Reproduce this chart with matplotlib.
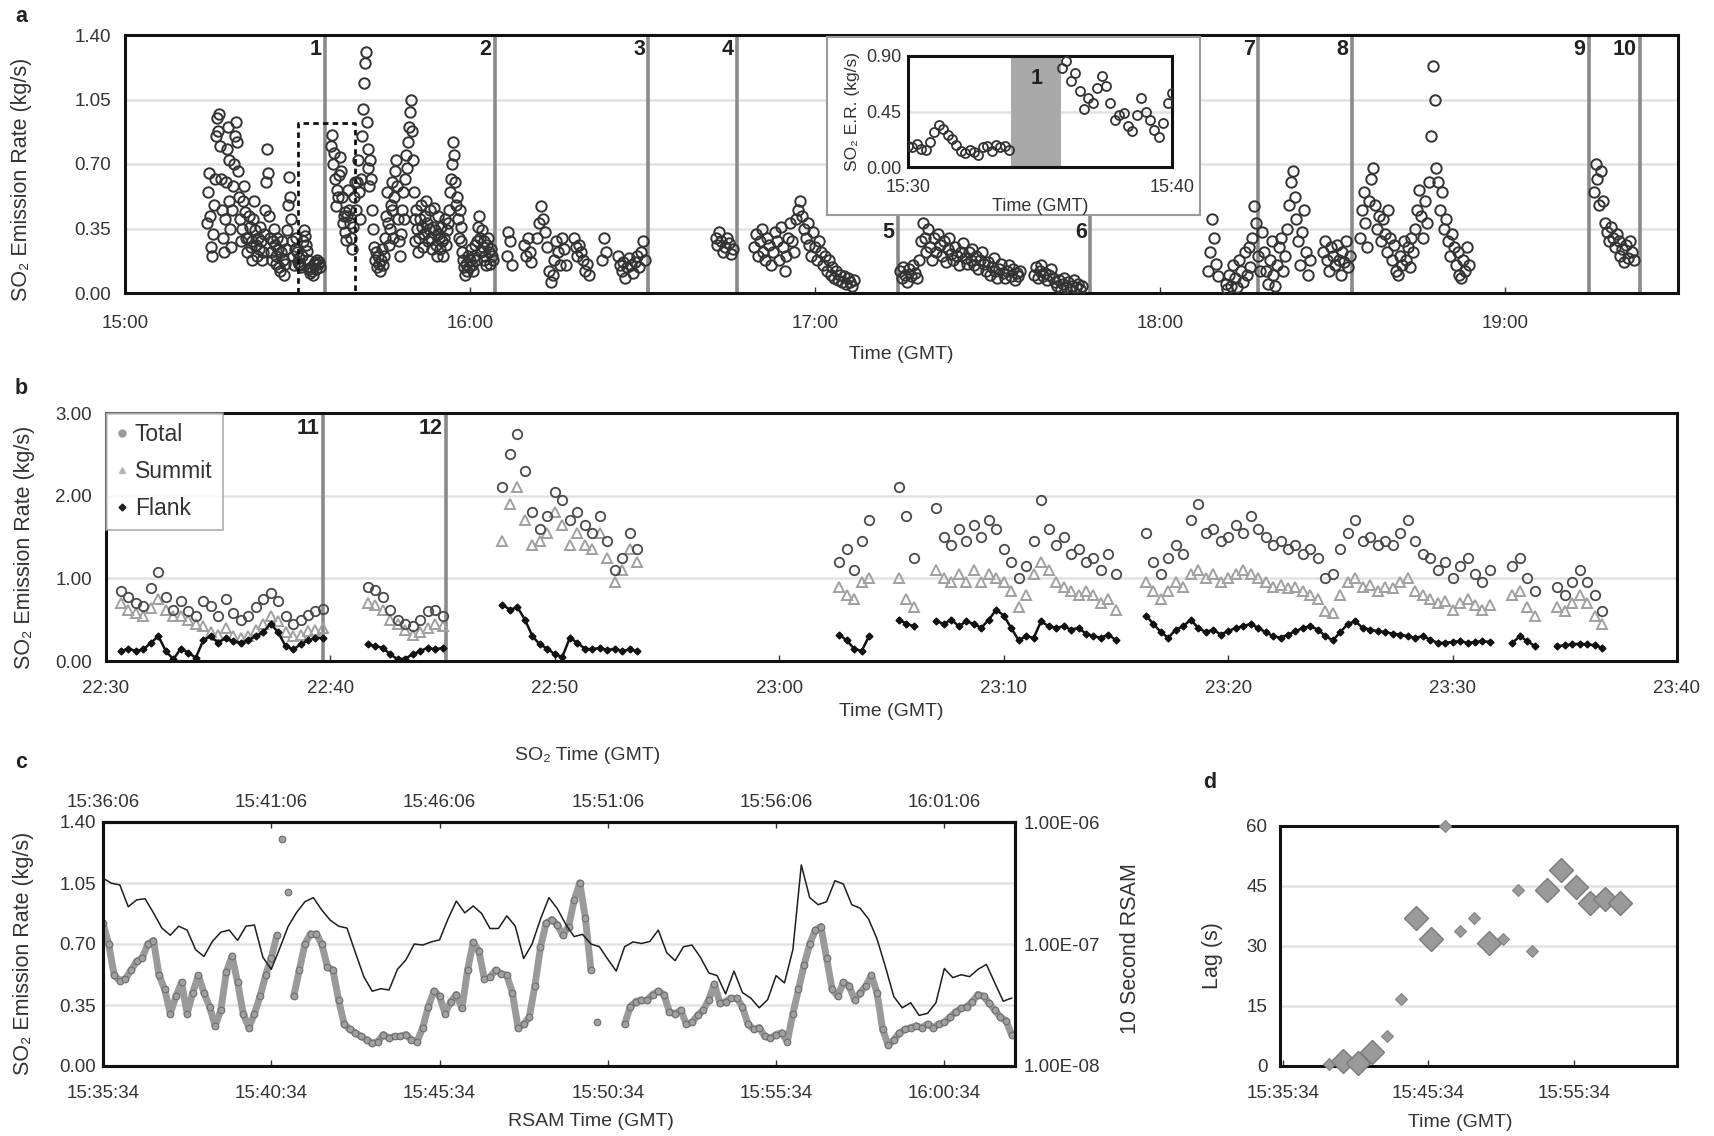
import numpy as np
import matplotlib
matplotlib.use("Agg")
import matplotlib.pyplot as plt
from matplotlib.ticker import FixedLocator, FuncFormatter
from matplotlib.lines import Line2D
from matplotlib.collections import LineCollection

plt.rcParams['font.family'] = ['Liberation Sans', 'DejaVu Sans']
plt.rcParams['text.color'] = '#333333'
plt.rcParams['axes.labelcolor'] = '#333333'
plt.rcParams['xtick.color'] = '#333333'
plt.rcParams['ytick.color'] = '#333333'

nan = np.nan

# ---------------- panel a : SO2 emission rate, runs of evenly spaced samples
a_starts = ["15:14:20", "15:30:00", "15:35:50", "15:40:10", "16:06:20", "16:42:40",
            "16:49:20", "17:14:40", "18:08:20", "18:17:40", "18:34:40", "19:15:20"]
a_steps = [10, 10, 10, 10, 20, 20, 20, 20, 20, 20, 20, 20]   # seconds

a_run1 = [0.38, 0.55, 0.65, 0.42, 0.25, 0.20, 0.32, 0.48, 0.62, 0.85, 0.95, 0.88,
          0.97, 0.80, 0.62, 0.45, 0.30, 0.22, 0.40, 0.60, 0.78, 0.90, 0.72, 0.50,
          0.35, 0.25, 0.45, 0.58, 0.70, 0.85, 0.93, 0.82, 0.66, 0.52, 0.40, 0.28,
          0.35, 0.50, 0.58, 0.44, 0.30, 0.22, 0.30, 0.42, 0.36, 0.25, 0.18, 0.28,
          0.40, 0.50, 0.34, 0.26, 0.20, 0.30, 0.24, 0.36, 0.28, 0.18, 0.22, 0.32,
          0.45, 0.60, 0.78, 0.65, 0.42, 0.30, 0.22, 0.18, 0.28, 0.35, 0.26, 0.16,
          0.20, 0.30, 0.24, 0.14, 0.12, 0.22, 0.28, 0.18, 0.10, 0.16, 0.24, 0.34,
          0.48, 0.63, 0.52, 0.40, 0.28, 0.20, 0.15, 0.24, 0.30, 0.22]
a_run2 = [0.17, 0.16, 0.19, 0.15, 0.14, 0.20, 0.28, 0.34, 0.31, 0.26, 0.23, 0.18,
          0.13, 0.11, 0.14, 0.12, 0.10, 0.16, 0.17, 0.13, 0.18, 0.16, 0.17, 0.14]
a_run3 = [0.80, 0.86, 0.70, 0.76, 0.62, 0.47, 0.56, 0.52, 0.64, 0.74, 0.66, 0.52,
          0.38, 0.42, 0.44, 0.33, 0.29, 0.42, 0.56, 0.45, 0.38, 0.30, 0.24, 0.36,
          0.52, 0.60]
a_run4 = [0.45, 0.60, 0.72, 0.55, 0.40, 0.62, 0.85, 1.00, 1.14, 1.25, 1.31, 0.93,
          0.78, 0.68, 0.58, 0.72, 0.62, 0.45, 0.35, 0.25, 0.18, 0.22, 0.14, 0.20,
          0.16, 0.12, 0.18, 0.24, 0.15, 0.20, 0.30, 0.42, 0.55, 0.38, 0.26, 0.35,
          0.48, 0.60, 0.45, 0.30, 0.52, 0.66, 0.72, 0.58, 0.40, 0.28, 0.20, 0.32,
          0.45, 0.55, 0.40, 0.62, 0.75, 0.68, 0.82, 0.90, 0.98, 1.05, 0.88, 0.72,
          0.55, 0.40, 0.28, 0.45, 0.35, 0.22, 0.30, 0.40, 0.48, 0.36, 0.25, 0.32,
          0.42, 0.50, 0.38, 0.28, 0.35, 0.45, 0.30, 0.24, 0.36, 0.46, 0.34, 0.26,
          0.20, 0.32, 0.42, 0.30, 0.24, 0.36, 0.28, 0.20, 0.30, 0.40, 0.26, 0.34,
          0.38, 0.45, 0.55, 0.62, 0.70, 0.82, 0.75, 0.60, 0.48, 0.52, 0.40, 0.30,
          0.45, 0.36, 0.28, 0.22, 0.18, 0.14, 0.10, 0.16, 0.12, 0.20, 0.14, 0.18,
          0.24, 0.15, 0.12, 0.20, 0.26, 0.18, 0.28, 0.36, 0.42, 0.30, 0.22, 0.34,
          0.25, 0.18, 0.28, 0.20, 0.15, 0.26, 0.30, 0.22, 0.16, 0.24, 0.20, 0.18]
a_run5 = [0.20, 0.33, 0.28, 0.15, nan, nan, nan, nan, nan, 0.26, 0.20, 0.30, 0.22,
          0.17, nan, nan, 0.30, 0.38, 0.47, 0.40, 0.33, 0.25, 0.12, 0.06, 0.10, 0.18,
          0.28, 0.22, 0.15, 0.30, 0.24, 0.15, nan, nan, nan, 0.30, 0.25, 0.20, 0.26,
          0.22, 0.18, 0.12, 0.16, 0.10, nan, nan, nan, nan, nan, nan, 0.18, 0.30,
          0.22, nan, nan, nan, nan, nan, 0.20, 0.15, 0.12, 0.17, 0.08, 0.14, 0.19,
          0.15, 0.11, 0.17, 0.20, 0.14, 0.22, 0.28, 0.18]
a_run6 = [0.30, 0.26, 0.33, 0.28, 0.22, 0.25, 0.30, 0.27, 0.21, 0.24]
a_run7 = [0.25, 0.32, 0.20, 0.28, 0.35, 0.22, 0.18, 0.30, 0.26,
          0.15, 0.22, 0.33, 0.28, 0.18, 0.36, 0.25, 0.12, 0.20,
          0.30, 0.38, 0.28, 0.22, 0.40, 0.45, 0.50, 0.42, 0.35,
          0.30, 0.38, 0.26, 0.20, 0.33, 0.25, 0.18, 0.28, 0.22,
          0.15, 0.20, 0.12, 0.18, 0.10, 0.14, 0.08, 0.12, 0.07,
          0.10, 0.06, 0.09, 0.05, 0.08, 0.06, 0.04, 0.07]
a_run8 = [0.12, 0.08, 0.14, 0.10, 0.06, 0.13, 0.09, 0.15, 0.11, 0.08,
          0.18, 0.28, 0.38, 0.30, 0.22, 0.35, 0.25, 0.18, 0.30,
          0.22, 0.32, 0.26, 0.20, 0.28, 0.17, 0.24, 0.30, 0.21,
          0.18, 0.25, 0.20, 0.15, 0.22, 0.27, 0.19, 0.16, 0.22,
          0.18, 0.24, 0.15, 0.20, 0.13, 0.18, 0.22, 0.16, 0.12,
          0.17, 0.10, 0.14, 0.19, 0.12, 0.08, 0.13, 0.16, 0.11,
          0.08, 0.12, 0.15, 0.09, 0.13, 0.07, 0.11, 0.09, 0.12,
          nan, nan, nan, nan, nan, nan,
          0.10, 0.14, 0.08, 0.12, 0.15, 0.09, 0.11, 0.07, 0.10, 0.13, 0.08, 0.06,
          0.04, 0.07, 0.02, 0.05, 0.08, 0.03, 0.06, 0.02, 0.04, 0.07, 0.03, 0.05,
          0.02, 0.04]
a_run9 = [0.12, 0.22, 0.40, 0.30, 0.16, 0.09, nan, nan, nan, 0.05, 0.02, 0.10, 0.04,
          0.15, 0.08, 0.03, 0.18, 0.12, 0.06, 0.22, 0.10, 0.25, 0.14, 0.30, 0.47,
          0.38, 0.20, 0.12]
a_run10 = [0.33, 0.22, 0.12, 0.05, 0.18, 0.28, 0.10, 0.04, 0.15, 0.25, 0.30, 0.12,
           0.20, 0.35, 0.48, 0.60, 0.66, 0.52, 0.40, 0.28, 0.15, 0.33, 0.45, 0.22,
           0.10, 0.18, nan, nan, nan, nan, nan, nan,
           0.22, 0.28, 0.18, 0.12, 0.25, 0.20, 0.15, 0.26, 0.18, 0.10, 0.22, 0.17,
           0.28, 0.14, 0.20]
a_run11 = [0.30, 0.45, 0.55, 0.38, 0.25, 0.50, 0.62, 0.68, 0.48, 0.35, 0.42, 0.28,
           0.40, 0.32, 0.22, 0.45, 0.30, 0.18, 0.26, 0.12, 0.10, 0.20, 0.15, 0.28,
           0.18, 0.25, 0.14, 0.30, 0.22, 0.35, 0.45, 0.56, 0.42, 0.30, 0.50, 0.38,
           0.60, 0.85, 1.23, 1.05, 0.68, 0.60, 0.45, 0.55, 0.35, 0.40, 0.28, 0.20,
           0.32, 0.25, 0.15, 0.22, 0.10, 0.08, 0.18, 0.12, 0.25, 0.15]
a_run12 = [0.55, 0.70, 0.62, 0.48, 0.66, 0.50, 0.38, 0.33, 0.28, 0.36, 0.30, 0.25,
           0.32, 0.28, 0.20, 0.24, 0.17, 0.26, 0.19, 0.28, 0.22, 0.18]
a_runs = [a_run1, a_run2, a_run3, a_run4, a_run5, a_run6, a_run7, a_run8,
          a_run9, a_run10, a_run11, a_run12]

a_events = ["15:34:50", "16:04:20", "16:31:00", "16:46:20", "17:14:20",
            "17:47:50", "18:17:00", "18:33:20", "19:14:30", "19:23:20"]
a_event_labels = ["1", "2", "3", "4", "5", "6", "7", "8", "9", "10"]
a_zoom_window = ["15:30", "15:40"]
a_zoom_top = 0.92
inset_gap = ["15:33:55", "15:35:48"]

# ---------------- panel b : total / summit / flank
b_starts = ["22:30:40", "22:41:40", "22:47:40", "23:02:40", "23:07:00",
            "23:16:20", "23:32:40", "23:34:40"]
b_step = 20
b_total = [
    [0.85, 0.78, 0.70, 0.66, 0.88, 1.08, 0.78, 0.62, 0.72, 0.60, 0.55, 0.72, 0.66, 0.55,
     0.75, 0.58, 0.50, 0.55, 0.65, 0.75, 0.82, 0.72, 0.55, 0.45, 0.50, 0.56, 0.60, 0.63],
    [0.90, 0.86, 0.78, 0.62, 0.50, 0.45, 0.42, 0.50, 0.60, 0.62, 0.55],
    [2.10, 2.50, 2.75, 2.30, 1.80, 1.60, 1.75, 2.05, 1.95, 1.70, 1.80, 1.65, 1.55, 1.75,
     1.45, 1.10, 1.25, 1.55, 1.35],
    [1.20, 1.35, 1.10, 1.45, 1.70, nan, nan, nan, 2.10, 1.75, 1.25],
    [1.85, 1.50, 1.40, 1.60, 1.45, 1.65, 1.50, 1.70, 1.60, 1.35, 1.20, 1.00, 1.15, 1.45,
     1.95, 1.60, 1.40, 1.50, 1.30, 1.35, 1.20, 1.25, 1.10, 1.30, 1.05],
    [1.55, 1.20, 1.05, 1.25, 1.40, 1.30, 1.70, 1.90, 1.55, 1.60, 1.45, 1.50, 1.65, 1.55,
     1.75, 1.60, 1.50, 1.40, 1.45, 1.35, 1.40, 1.30, 1.35, 1.25, 1.00, 1.05, 1.35, 1.55,
     1.70, 1.45, 1.50, 1.40, 1.45, 1.40, 1.55, 1.70, 1.45, 1.30, 1.25, 1.10, 1.20, 1.00,
     1.15, 1.25, 1.05, 0.95, 1.10],
    [1.15, 1.25, 1.00, 0.85],
    [0.90, 0.80, 0.95, 1.10, 0.95, 0.80, 0.60],
]
b_summit = [
    [0.70, 0.62, 0.58, 0.55, 0.64, 0.75, 0.62, 0.55, 0.55, 0.50, 0.45, 0.42, 0.35, 0.32,
     0.40, 0.30, 0.28, 0.30, 0.38, 0.45, 0.55, 0.48, 0.35, 0.30, 0.32, 0.36, 0.38, 0.40],
    [0.70, 0.68, 0.62, 0.50, 0.45, 0.38, 0.32, 0.35, 0.40, 0.45, 0.42],
    [1.45, 1.90, 2.10, 1.70, 1.40, 1.45, 1.55, 1.80, 1.65, 1.40, 1.55, 1.40, 1.35, 1.55,
     1.25, 0.95, 1.10, 1.35, 1.20],
    [0.90, 0.80, 0.75, 0.95, 1.00, nan, nan, nan, 1.00, 0.75, 0.65],
    [1.10, 1.00, 0.95, 1.05, 0.95, 1.10, 0.95, 1.05, 1.00, 0.95, 0.85, 0.65, 0.80, 1.05,
     1.20, 1.10, 0.95, 0.90, 0.85, 0.80, 0.85, 0.80, 0.70, 0.75, 0.62],
    [0.95, 0.85, 0.75, 0.85, 0.95, 0.90, 1.05, 1.10, 1.00, 1.05, 0.95, 1.00, 1.05, 1.10,
     1.05, 1.00, 0.95, 0.90, 0.92, 0.88, 0.90, 0.85, 0.80, 0.75, 0.60, 0.58, 0.80, 0.95,
     1.00, 0.90, 0.92, 0.85, 0.90, 0.88, 0.95, 1.00, 0.85, 0.80, 0.75, 0.70, 0.72, 0.62,
     0.70, 0.75, 0.68, 0.62, 0.68],
    [0.80, 0.85, 0.65, 0.55],
    [0.65, 0.60, 0.70, 0.80, 0.70, 0.55, 0.45],
]
b_flank = [
    [0.12, 0.15, 0.12, 0.14, 0.22, 0.30, 0.12, 0.02, 0.15, 0.10, 0.04, 0.25, 0.30, 0.22,
     0.28, 0.24, 0.22, 0.25, 0.30, 0.35, 0.45, 0.35, 0.18, 0.14, 0.20, 0.25, 0.28, 0.28],
    [0.20, 0.18, 0.16, 0.08, 0.02, 0.03, 0.08, 0.12, 0.16, 0.14, 0.16],
    [0.68, 0.62, 0.65, 0.50, 0.30, 0.20, 0.15, 0.08, 0.05, 0.28, 0.22, 0.15, 0.14, 0.16,
     0.13, 0.15, 0.12, 0.14, 0.12],
    [0.32, 0.25, 0.15, 0.12, 0.30, nan, nan, nan, 0.50, 0.45, 0.42],
    [0.48, 0.45, 0.50, 0.42, 0.48, 0.45, 0.40, 0.50, 0.62, 0.55, 0.40, 0.25, 0.30, 0.28,
     0.48, 0.42, 0.40, 0.42, 0.38, 0.40, 0.33, 0.30, 0.28, 0.32, 0.25],
    [0.55, 0.45, 0.35, 0.28, 0.38, 0.42, 0.50, 0.40, 0.35, 0.38, 0.32, 0.36, 0.40, 0.42,
     0.45, 0.40, 0.35, 0.30, 0.28, 0.32, 0.36, 0.40, 0.42, 0.38, 0.30, 0.25, 0.35, 0.45,
     0.48, 0.40, 0.38, 0.36, 0.35, 0.33, 0.32, 0.30, 0.28, 0.30, 0.26, 0.22, 0.22, 0.23,
     0.24, 0.22, 0.23, 0.24, 0.23],
    [0.22, 0.30, 0.24, 0.18],
    [0.18, 0.19, 0.20, 0.21, 0.20, 0.19, 0.16],
]
b_events = ["22:39:40", "22:45:10"]
b_event_labels = ["11", "12"]

# ---------------- panel c : SO2 (10 s) vs 10-second RSAM
c_so2_start = "15:36:06"      # SO2 clock
c_so2_step = 10
c_so2 = [0.82, 0.70, 0.52, 0.49, 0.50, 0.55, 0.60, 0.62, 0.70, 0.72, 0.52, 0.44,
         0.30, 0.40, 0.48, 0.30, 0.42, 0.52, 0.42, 0.34, 0.23, 0.32, 0.54, 0.63,
         0.48, 0.30, 0.22, 0.30, 0.40, 0.52, 0.62, 0.75, 1.30, 1.00, 0.40, 0.55,
         0.70, 0.76, 0.76, 0.70, 0.57, 0.55, 0.38, 0.24, 0.21, 0.19, 0.17, 0.15,
         0.13, 0.14, 0.18, 0.16, 0.17, 0.17, 0.18, 0.15, 0.14, 0.22, 0.34, 0.43,
         0.40, 0.30, 0.37, 0.41, 0.33, 0.55, 0.71, 0.66, 0.50, 0.51, 0.55, 0.53,
         0.52, 0.42, 0.22, 0.24, 0.28, 0.46, 0.68, 0.82, 0.84, 0.81, 0.75, 0.80,
         0.95, 1.05, 0.85, 0.55, 0.25, nan, nan, nan, nan, 0.24, 0.34, 0.37,
         0.38, 0.38, 0.41, 0.43, 0.41, 0.31, 0.30, 0.32, 0.24, 0.25, 0.29, 0.32,
         0.38, 0.47, 0.36, 0.37, 0.39, 0.39, 0.34, 0.24, 0.21, 0.22, 0.17, 0.16,
         0.18, 0.19, 0.14, 0.30, 0.44, 0.58, 0.70, 0.78, 0.80, 0.62, 0.44, 0.40,
         0.48, 0.46, 0.38, 0.42, 0.46, 0.52, 0.42, 0.21, 0.12, 0.15, 0.19, 0.21,
         0.22, 0.23, 0.22, 0.24, 0.22, 0.24, 0.25, 0.28, 0.31, 0.33, 0.34, 0.37,
         0.41, 0.40, 0.36, 0.32, 0.28, 0.26, 0.18]
c_rsam_start = "15:35:34"     # RSAM clock
c_rsam_step = 15
c_rsam_e7 = [3.46, 3.15, 3.05, 2.02, 2.30, 2.35, 1.80, 1.35, 1.18, 1.40, 1.30, 0.90,
             0.79, 1.05, 1.25, 1.30, 1.07, 1.40, 1.43, 0.78, 0.62, 0.92, 1.39, 1.81,
             2.22, 2.40, 1.90, 1.57, 1.40, 1.35, 0.85, 0.54, 0.41, 0.43, 0.42, 0.62,
             0.74, 1.00, 0.98, 1.04, 1.08, 1.60, 2.25, 1.80, 2.05, 1.78, 1.34, 1.34,
             1.70, 1.40, 0.76, 1.00, 1.60, 2.40, 1.95, 1.45, 1.15, 1.20, 1.00, 0.95,
             0.75, 0.60, 0.95, 1.04, 1.01, 1.05, 1.30, 0.85, 0.73, 0.95, 0.98, 0.78,
             0.58, 0.55, 0.39, 0.60, 0.40, 0.36, 0.30, 0.35, 0.55, 0.48, 0.90, 4.45,
             2.40, 2.10, 2.22, 3.30, 3.10, 2.10, 1.96, 1.60, 1.10, 0.65, 0.37, 0.30,
             0.33, 0.26, 0.27, 0.33, 0.63, 0.53, 0.56, 0.54, 0.62, 0.68, 0.48, 0.34,
             0.36]
c_clock_offset_s = 32         # SO2 clock minus RSAM clock

# ---------------- panel d : lag between SO2 and RSAM
d_big_time = ["15:39:43", "15:40:43", "15:41:43", "15:44:43", "15:45:43", "15:49:43",
              "15:53:43", "15:54:43", "15:55:43", "15:56:43", "15:57:43", "15:58:43"]
d_big_lag = [1.2, 0.7, 3.5, 37.1, 31.7, 30.8, 44.0, 48.9, 44.8, 40.8, 41.8, 40.8]
d_small_time = ["15:38:43", "15:42:43", "15:43:43", "15:46:43", "15:47:43",
                "15:48:43", "15:50:43", "15:51:43", "15:52:43"]
d_small_lag = [0.4, 7.5, 16.7, 60.0, 33.8, 37.0, 31.8, 44.0, 28.8]


def tmin(s):
    p = [int(v) for v in s.split(":")]
    return p[0] * 60 + p[1] + (p[2] / 60 if len(p) > 2 else 0)


def run_xy(start, step_s, vals):
    v = np.array(vals, dtype=float)
    return tmin(start) + np.arange(len(v)) * step_s / 60.0, v


def fmt_hm(x, pos=None):
    s = int(round(x * 60))
    return f"{s // 3600}:{(s % 3600) // 60:02d}"


def fmt_hms(x, pos=None):
    s = int(round(x * 60))
    return f"{s // 3600}:{(s % 3600) // 60:02d}:{s % 60:02d}"


W, H = 1715, 1136
TICK = 13.5


def box(x0, y0, x1, y1):
    return [x0 / W, 1 - y1 / H, (x1 - x0) / W, (y1 - y0) / H]


def style(ax, xpad=16, ypad=10, size=TICK):
    for sp in ax.spines.values():
        sp.set_linewidth(2.2)
        sp.set_color('#111111')
    ax.tick_params(axis='y', length=0, labelsize=size, pad=ypad)
    ax.tick_params(axis='x', direction='in', length=4, width=1, labelsize=size, pad=xpad)
    ax.grid(axis='y', color='#e2e2e2', lw=1.8)
    ax.set_axisbelow(True)


fig = plt.figure(figsize=(W / 100, H / 100), dpi=100)

# ======================= panel a
ax_a = fig.add_axes(box(125, 35, 1678, 293))
a_t, a_v = [], []
for st, stp, vals in zip(a_starts, a_steps, a_runs):
    t, v = run_xy(st, stp, vals)
    a_t.append(t)
    a_v.append(v)
a_t = np.concatenate(a_t)
a_v = np.concatenate(a_v)
ax_a.plot(a_t, a_v, ls='none', marker='o', ms=7.5, mfc='none', mec='#333333',
          mew=1.4, zorder=3)
for ev, lab in zip(a_events, a_event_labels):
    x = tmin(ev)
    ax_a.axvline(x, color='#8a8a8a', lw=2.6, zorder=2)
    y = 0.33 if lab in ("5", "6") else 1.32
    ax_a.text(x - 0.6, y, lab, ha='right', va='center', fontsize=15.5,
              fontweight='bold', color='#222222', zorder=4)
z0, z1 = tmin(a_zoom_window[0]), tmin(a_zoom_window[1])
ax_a.plot([z0, z0, z1, z1], [0, a_zoom_top, a_zoom_top, 0], color='#111111',
          lw=2.0, ls=(0, (2, 1.5)), zorder=4, clip_on=False)
ax_a.set_xlim(tmin("15:00"), tmin("19:30"))
ax_a.set_ylim(0, 1.4)
ax_a.xaxis.set_major_locator(FixedLocator([tmin(f"{h}:00") for h in range(15, 20)]))
ax_a.xaxis.set_major_formatter(FuncFormatter(fmt_hm))
ax_a.set_yticks([0, 0.35, 0.70, 1.05, 1.40])
ax_a.yaxis.set_major_formatter(FuncFormatter(lambda v, p: f"{v:.2f}"))
style(ax_a, xpad=16, ypad=10)
ax_a.set_xlabel("Time (GMT)", fontsize=14, va='top')
ax_a.xaxis.set_label_coords(0.5, -0.205)
ax_a.set_ylabel("SO₂ Emission Rate (kg/s)", fontsize=15.5)
ax_a.yaxis.set_label_coords(-0.060, 0.44)

# inset box and inset axes
ax_box = fig.add_axes(box(827, 37, 1200, 215), zorder=5)
ax_box.set_xticks([])
ax_box.set_yticks([])
for sp in ax_box.spines.values():
    sp.set_color('#9a9a9a')
    sp.set_linewidth(1.5)

ax_in = fig.add_axes(box(908, 56, 1172, 167), zorder=6)
m = (a_t >= z0 - 0.05) & (a_t <= z1 + 0.05)
ax_in.plot(a_t[m], a_v[m], ls='none', marker='o', ms=6.5, mfc='none', mec='#333333',
           mew=1.3, zorder=3)
g0, g1 = tmin(inset_gap[0]), tmin(inset_gap[1])
ax_in.axvspan(g0, g1, color='#a9a9a9', lw=0, zorder=2)
ax_in.text((g0 + g1) / 2, 0.72, "1", ha='center', va='center', fontsize=15.5,
           fontweight='bold', color='#222222')
ax_in.set_xlim(z0, z1)
ax_in.set_ylim(0, 0.9)
ax_in.set_xticks([z0, z1])
ax_in.xaxis.set_major_formatter(FuncFormatter(fmt_hm))
ax_in.set_yticks([0, 0.45, 0.90])
ax_in.yaxis.set_major_formatter(FuncFormatter(lambda v, p: f"{v:.2f}"))
style(ax_in, xpad=9, ypad=5, size=13)
ax_in.tick_params(axis='x', length=0)
ax_in.set_xlabel("Time (GMT)", fontsize=13, labelpad=1)
ax_in.set_ylabel("SO₂ E.R. (kg/s)", fontsize=12.5, labelpad=4)

# ======================= panel b
ax_b = fig.add_axes(box(106, 413, 1677, 661))
for st, tot, sum_, fl in zip(b_starts, b_total, b_summit, b_flank):
    t, v = run_xy(st, b_step, sum_)
    ax_b.plot(t, v, ls='none', marker='^', ms=6.5, mfc='none', mec='#a0a0a0', mew=1.4, zorder=3)
    t, v = run_xy(st, b_step, tot)
    ax_b.plot(t, v, ls='none', marker='o', ms=6.8, mfc='none', mec='#4a4a4a', mew=1.3, zorder=4)
    t, v = run_xy(st, b_step, fl)
    ax_b.plot(t, v, ls='-', lw=1.8, color='#111111', marker='D', ms=3.5, zorder=5)
for ev, lab in zip(b_events, b_event_labels):
    x = tmin(ev)
    ax_b.axvline(x, color='#8a8a8a', lw=2.6, zorder=2)
    ax_b.text(x - 0.15, 2.81, lab, ha='right', va='center', fontsize=15.5,
              fontweight='bold', color='#222222', zorder=4)
ax_b.set_xlim(tmin("22:30"), tmin("23:40"))
ax_b.set_ylim(0, 3)
ax_b.xaxis.set_major_locator(FixedLocator([tmin("22:30") + 10 * k for k in range(8)]))
ax_b.xaxis.set_major_formatter(FuncFormatter(fmt_hm))
ax_b.set_yticks([0, 1, 2, 3])
ax_b.yaxis.set_major_formatter(FuncFormatter(lambda v, p: f"{v:.2f}"))
style(ax_b, xpad=14, ypad=10)
ax_b.set_xlabel("Time (GMT)", fontsize=14, va='top')
ax_b.xaxis.set_label_coords(0.5, -0.169)
ax_b.set_ylabel("SO₂ Emission Rate (kg/s)", fontsize=15.5)
ax_b.yaxis.set_label_coords(-0.045, 0.46)
handles = [Line2D([], [], ls='none', marker='o', ms=5, mfc='#9a9a9a', mec='#9a9a9a'),
           Line2D([], [], ls='none', marker='^', ms=4.5, mfc='#b5b5b5', mec='#b5b5b5'),
           Line2D([], [], ls='none', marker='D', ms=3.5, mfc='#222222', mec='#222222')]
leg = ax_b.legend(handles, ["Total", "Summit", "Flank"], loc='upper left',
                  bbox_to_anchor=(0, 1), borderaxespad=0, fancybox=False,
                  edgecolor='#9a9a9a', fontsize=16.5, handlelength=0.5,
                  handletextpad=0.3, labelspacing=0.6, borderpad=0.45)
leg.get_frame().set_linewidth(1.2)
leg.set_zorder(6)

# ======================= panel c
ax_c = fig.add_axes(box(103, 822, 1015, 1066))
lag = c_clock_offset_s / 60.0
t, v = run_xy(c_so2_start, c_so2_step, c_so2)
t = t - lag
# thick band between neighbouring samples, left open across sudden jumps
pts = np.column_stack([t, v])
segs = np.stack([pts[:-1], pts[1:]], axis=1)
keep = np.isfinite(segs).all(axis=(1, 2)) & (np.abs(np.diff(v)) < 0.3)
ax_c.add_collection(LineCollection(segs[keep], colors='#9a9a9a', linewidths=5,
                                   capstyle='round', zorder=2.5))
ax_c.plot(t, v, ls='none', marker='o', ms=4.8, mfc='#a0a0a0', mec='#6e6e6e',
          mew=0.8, zorder=3)
ax_c.set_ylim(0, 1.4)
c0 = tmin("15:35:34")
ax_c.set_xlim(c0, c0 + 27.1)
ax_c.xaxis.set_major_locator(FixedLocator([c0 + 5 * k for k in range(6)]))
ax_c.xaxis.set_major_formatter(FuncFormatter(fmt_hms))
ax_c.set_yticks([0, 0.35, 0.70, 1.05, 1.40])
ax_c.yaxis.set_major_formatter(FuncFormatter(lambda v, p: f"{v:.2f}"))
style(ax_c, xpad=14, ypad=5)
ax_c.set_xlabel("RSAM Time (GMT)", fontsize=14, va='top')
ax_c.xaxis.set_label_coords(0.535, -0.193)
ax_c.set_ylabel("SO₂ Emission Rate (kg/s)", fontsize=15.5)
ax_c.yaxis.set_label_coords(-0.076, 0.46)

ax_r = ax_c.twinx()
t, v = run_xy(c_rsam_start, c_rsam_step, c_rsam_e7)
ax_r.plot(t, v * 1e-7, color='#1e1e1e', lw=1.1, zorder=4)
ax_r.set_yscale('log')
ax_r.set_ylim(1e-8, 1e-6)
ax_r.set_yticks([1e-8, 1e-7, 1e-6])
ax_r.yaxis.set_major_formatter(FuncFormatter(lambda v, p: f"{v:.2E}"))
ax_r.yaxis.set_minor_locator(FixedLocator([]))
for sp in ax_r.spines.values():
    sp.set_linewidth(2.2)
    sp.set_color('#111111')
ax_r.tick_params(axis='y', length=0, labelsize=TICK, pad=6)
ax_r.set_ylabel("10 Second RSAM", fontsize=15.5)
ax_r.yaxis.set_label_coords(1.115, 0.48)

sec = ax_c.secondary_xaxis('top', functions=(lambda x: x + lag, lambda x: x - lag))
sec.xaxis.set_major_locator(FixedLocator([tmin("15:36:06") + 5 * k for k in range(6)]))
sec.xaxis.set_major_formatter(FuncFormatter(fmt_hms))
sec.tick_params(axis='x', direction='in', length=4, width=1, labelsize=TICK, pad=8)
sec.spines['top'].set_linewidth(2.2)
fig.text(588 / W, 1 - 756 / H, "SO₂ Time (GMT)", fontsize=14, ha='center',
         va='center', color='#333333')

# ======================= panel d
ax_d = fig.add_axes(box(1280, 826, 1677, 1066))
ax_d.plot([tmin(s) for s in d_small_time], d_small_lag, ls='none', marker='D', ms=6,
          mfc='#9a9a9a', mec='#858585', mew=0.8, zorder=3, clip_on=False)
ax_d.plot([tmin(s) for s in d_big_time], d_big_lag, ls='none', marker='D', ms=12,
          mfc='#9a9a9a', mec='#7a7a7a', mew=1.0, zorder=4, clip_on=False)
ax_d.set_xlim(c0 - 0.2, c0 + 27.1)
ax_d.set_ylim(0, 60)
ax_d.xaxis.set_major_locator(FixedLocator([c0, c0 + 10, c0 + 20]))
ax_d.xaxis.set_major_formatter(FuncFormatter(fmt_hms))
ax_d.set_yticks([0, 15, 30, 45, 60])
style(ax_d, xpad=14, ypad=9)
ax_d.set_xlabel("Time (GMT)", fontsize=14, va='top')
ax_d.xaxis.set_label_coords(0.453, -0.2)
ax_d.set_ylabel("Lag (s)", fontsize=15.5)
ax_d.yaxis.set_label_coords(-0.144, 0.46)

# panel letters
for lab, x, y in [("a", 15, 16), ("b", 15, 388), ("c", 15, 762), ("d", 1203, 782)]:
    fig.text(x / W, 1 - y / H, lab, fontsize=15.5, fontweight='bold', va='center',
             ha='left', color='#222222')

fig.savefig("out.png", dpi=100, facecolor='white')
